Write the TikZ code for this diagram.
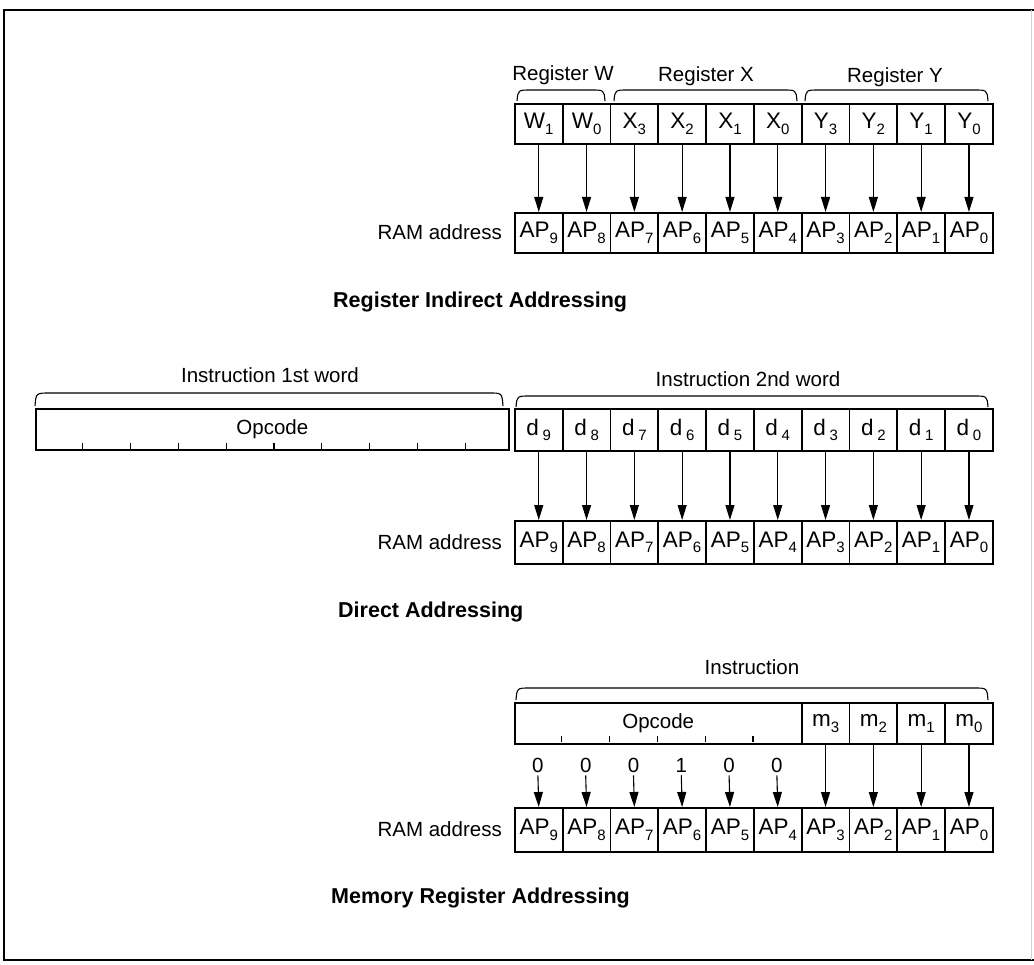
\documentclass[tikz,border=0pt]{standalone}
\usepackage{fontspec}
\setmainfont{Liberation Sans}
\usetikzlibrary{arrows.meta}
\newcommand\lsub[1]{\raisebox{-0.45ex}{\fontsize{15}{15}\selectfont #1}}
\begin{document}
\begin{tikzpicture}[x=1pt,y=-1pt,
  cell/.style={draw, line width=1.7pt, minimum width=47.8pt, inner sep=0pt,
    font=\fontsize{22.5}{22.5}\selectfont, anchor=north west},
  lab/.style={font=\fontsize{20.5}{20.5}\selectfont, inner sep=0pt},
  title/.style={font=\bfseries\fontsize{21.5}{21.5}\selectfont, inner sep=0pt, anchor=west},
  arr/.style={-{Triangle[length=15pt,width=9pt]}, line width=1.1pt},
  brace/.style={line width=1.1pt},
  tick/.style={line width=1.1pt},
]
\useasboundingbox (0,0) rectangle (1034,965);
% frame
\draw[line width=2.5pt] (1034,10) -- (4,10) -- (4,960) -- (1034,960);
\draw[gray!35, line width=1pt] (1031,10) -- (1031,960);

% ---------- Register indirect addressing ----------
\draw[brace] (517,101) .. controls (518,90) .. (531,90) -- (591,90) .. controls (604,90) .. (605,101);
\draw[brace] (614,101) .. controls (615,90) .. (628,90) -- (783,90) .. controls (796,90) .. (797,101);
\draw[brace] (805,101) .. controls (806,90) .. (819,90) -- (974,90) .. controls (987,90) .. (988,101);
\node[lab] (lw) at (563,75) {Register W};
\node[lab] (lx) at (706,76) {Register X};
\node[lab] (ly) at (895,77) {Register Y};
\foreach \i/\l/\s in {0/W/1,1/W/0,2/X/3,3/X/2,4/X/1,5/X/0,6/Y/3,7/Y/2,8/Y/1,9/Y/0}{
  \pgfmathtruncatemacro\k{9-\i}
  \node[cell, minimum height=40pt] (r\i) at (514+47.8*\i,103) {\l\lsub{\s}};
  \node[cell, minimum height=40pt] (a\i) at (514+47.8*\i,212) {AP\lsub{\k}};
  \draw[arr] (r\i.south) -- (a\i.north);
}
\node[lab, anchor=east] (ram1) at (502,232) {RAM address};
\node[title] (t1) at (333,302) {Register Indirect Addressing};

% ---------- Direct addressing ----------
\draw[brace] (35,406) .. controls (36,393) .. (50,393) -- (489,393) .. controls (502,393) .. (503,406);
\draw[brace] (516,407) .. controls (517,396) .. (530,396) -- (974,396) .. controls (987,396) .. (988,407);
\node[lab] (li1) at (270,375) {Instruction 1st word};
\node[lab] (li2) at (748,379) {Instruction 2nd word};
\node[draw, line width=1.7pt, minimum width=473pt, minimum height=41pt, inner sep=0pt,
  anchor=north west, font=\fontsize{20.5}{20.5}\selectfont] (op1) at (35,408) {Opcode};
\foreach \k in {1,...,9}{
  \draw[tick] (35+47.8*\k,449) -- (35+47.8*\k,443);
}
\foreach \i in {0,...,9}{
  \pgfmathtruncatemacro\k{9-\i}
  \node[cell, minimum height=42pt] (d\i) at (514+47.8*\i,408) {d\,\lsub{\k}};
  \node[cell, minimum height=43pt] (c\i) at (514+47.8*\i,520) {AP\lsub{\k}};
  \draw[arr] (d\i.south) -- (c\i.north);
}
\node[lab, anchor=east] (ram2) at (502,542) {RAM address};
\node[title] (t2) at (338,612) {Direct Addressing};

% ---------- Memory register addressing ----------
\draw[brace] (516,700) .. controls (517,688) .. (530,688) -- (974,688) .. controls (987,688) .. (988,700);
\node[lab] (li3) at (752,667) {Instruction};
\node[draw, line width=1.7pt, minimum width=286.8pt, minimum height=41pt, inner sep=0pt,
  anchor=north west, font=\fontsize{20.5}{20.5}\selectfont] (op2) at (514,702) {Opcode};
\foreach \k in {1,...,5}{
  \draw[tick] (514+47.8*\k,742) -- (514+47.8*\k,736);
}
\foreach \i/\s in {6/3,7/2,8/1,9/0}{
  \node[cell, minimum height=41pt] (m\i) at (514+47.8*\i,702) {m\lsub{\s}};
}
\foreach \i in {0,...,9}{
  \pgfmathtruncatemacro\k{9-\i}
  \node[cell, minimum height=44pt] (b\i) at (514+47.8*\i,807) {AP\lsub{\k}};
}
\foreach \i/\v in {0/0,1/0,2/0,3/1,4/0,5/0}{
  \node[lab, inner sep=3pt] (n\i) at (514+47.8*\i+23.9,765) {\v};
  \draw[arr] (n\i.south) -- (b\i.north);
}
\foreach \i in {6,...,9}{
  \draw[arr] (m\i.south) -- (b\i.north);
}
\node[lab, anchor=east] (ram3) at (502,829) {RAM address};
\node[title] (t3) at (331,898) {Memory Register Addressing};
\end{tikzpicture}
\end{document}
